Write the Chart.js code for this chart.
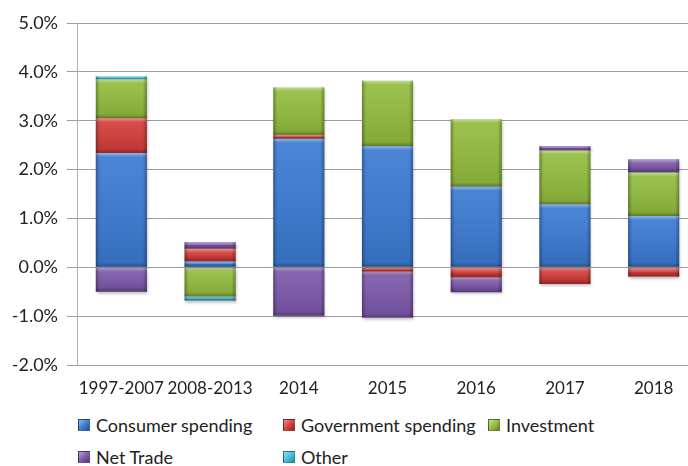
<!DOCTYPE html>
<html>
<head>
<meta charset="utf-8">
<script src="https://cdn.jsdelivr.net/npm/chart.js@4.4.1/dist/chart.umd.min.js"></script>
<style>
  html, body { margin: 0; padding: 0; background: #fff; overflow: hidden; }
  #wrap { position: relative; width: 688px; height: 466px; overflow: hidden; }
  #growth { position: absolute; left: 0; top: 0; }
  .lg-item { position: absolute; font-family: Lato, "DejaVu Sans", sans-serif; font-size: 18px; color: #222; white-space: nowrap; line-height: 20px; }
  .lg-box { position: absolute; left: 0; top: 4px; width: 10px; height: 10px; border: 1px solid rgba(0,0,0,0.35); }
  .lg-text { position: absolute; left: 18px; top: 0; }
</style>
</head>
<body>
<div id="wrap">
  <canvas id="growth" width="720" height="400"></canvas>
  <div id="legend"></div>
</div>
<script>
// contributions to GDP growth, percentage points
const categories = ['1997-2007', '2008-2013', '2014', '2015', '2016', '2017', '2018'];
const consumer   = [2.34, 0.12, 2.63, 2.48, 1.65, 1.29, 1.05];
const government = [0.71, 0.26, 0.08, -0.09, -0.21, -0.34, -0.19];
const investment = [0.80, -0.60, 0.97, 1.34, 1.38, 1.10, 0.89];
const netTrade   = [-0.50, 0.14, -0.99, -0.94, -0.30, 0.09, 0.27];
const other      = [0.06, -0.08, 0, 0, 0, 0, 0];

const seriesNames  = ['Consumer spending', 'Government spending', 'Investment', 'Net Trade', 'Other'];
const seriesValues = [consumer, government, investment, netTrade, other];
const seriesColors = ['#3b7ad2', '#d43d3a', '#92bc3e', '#7d58ab', '#40c0da'];

const yMin = -2, yMax = 5, yStep = 1;

// excel-style bevel on every bar segment
const bevel = {
  id: 'bevel',
  beforeDatasetsDraw(chart) {
    const ctx = chart.ctx;
    ctx.save();
    ctx.shadowColor = 'rgba(0,0,0,0.28)';
    ctx.shadowBlur = 3;
    ctx.shadowOffsetX = 1;
    ctx.shadowOffsetY = 2;
  },
  afterDatasetsDraw(chart) {
    const ctx = chart.ctx;
    ctx.restore();
    ctx.save();
    chart.data.datasets.forEach((ds, di) => {
      chart.getDatasetMeta(di).data.forEach(bar => {
        const p = bar.getProps(['x', 'y', 'base', 'width'], true);
        const top = Math.min(p.y, p.base), bot = Math.max(p.y, p.base);
        const h = bot - top;
        if (h < 0.5) return;
        const x0 = p.x - p.width / 2, w = p.width;
        const e = Math.min(4, h / 2);
        let g = ctx.createLinearGradient(0, top, 0, bot);
        g.addColorStop(0, 'rgba(255,255,255,0.45)');
        g.addColorStop(e / h, 'rgba(255,255,255,0.08)');
        g.addColorStop(Math.max(e / h, 1 - e / h), 'rgba(0,0,0,0.1)');
        g.addColorStop(1, 'rgba(0,0,0,0.35)');
        ctx.fillStyle = g;
        ctx.fillRect(x0, top, w, h);
        g = ctx.createLinearGradient(x0, 0, x0 + w, 0);
        g.addColorStop(0, 'rgba(0,0,0,0.3)');
        g.addColorStop(4 / w, 'rgba(0,0,0,0)');
        g.addColorStop(1 - 4 / w, 'rgba(0,0,0,0)');
        g.addColorStop(1, 'rgba(0,0,0,0.3)');
        ctx.fillStyle = g;
        ctx.fillRect(x0, top, w, h);
      });
    });
    ctx.restore();
  }
};

const chart = new Chart(document.getElementById('growth'), {
  type: 'bar',
  data: {
    labels: categories,
    datasets: seriesNames.map((name, i) => ({
      label: name,
      data: seriesValues[i],
      backgroundColor: seriesColors[i],
      borderWidth: 0,
      categoryPercentage: 1,
      barPercentage: 0.576
    }))
  },
  options: {
    responsive: false,
    devicePixelRatio: 1,
    animation: false,
    layout: { padding: { left: 0, right: 22, top: 23, bottom: 0 } },
    plugins: { legend: { display: false }, tooltip: { enabled: false } },
    scales: {
      x: {
        stacked: true,
        afterFit(scale) { scale.height = 35; },
        grid: { display: false, drawTicks: false },
        border: { display: false },
        ticks: {
          autoSkip: false, maxRotation: 0, minRotation: 0, padding: 13,
          color: '#222', font: { family: 'Lato', size: 17 }
        }
      },
      y: {
        stacked: true,
        min: yMin, max: yMax,
        afterFit(scale) { scale.width = 77; },
        grid: { color: '#9c9c9c', lineWidth: 1, tickLength: 10 },
        border: { display: true, color: '#b0b0b0' },
        ticks: {
          stepSize: yStep, padding: 9, color: '#222',
          font: { family: 'Lato', size: 18 },
          callback: v => v.toFixed(1) + '%'
        }
      }
    }
  },
  plugins: [bevel]
});

// legend laid out in three equal columns below the axis
const legend = document.getElementById('legend');
seriesNames.forEach((name, i) => {
  const col = i % 3, row = Math.floor(i / 3);
  const item = document.createElement('div');
  item.className = 'lg-item';
  item.style.left = (78 + col * 205) + 'px';
  item.style.top = (415 + row * 32) + 'px';
  const box = document.createElement('span');
  box.className = 'lg-box';
  box.style.background = 'linear-gradient(135deg, rgba(255,255,255,0.45), ' + seriesColors[i] + ' 55%, rgba(0,0,0,0.3))';
  box.style.backgroundColor = seriesColors[i];
  const txt = document.createElement('span');
  txt.className = 'lg-text';
  txt.textContent = name;
  item.appendChild(box);
  item.appendChild(txt);
  legend.appendChild(item);
});
</script>
</body>
</html>
